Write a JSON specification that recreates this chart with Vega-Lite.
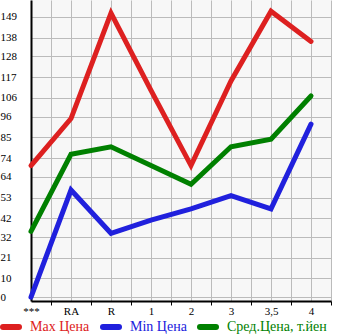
{
  "$schema": "https://vega.github.io/schema/vega-lite/v6.json",
  "width": 300,
  "height": 301,
  "autosize": {"type": "none"},
  "padding": {"left": 31, "top": 0, "right": 14, "bottom": 34},
  "background": "white",
  "config": {
    "view": {"stroke": null, "fill": "#f7f7f7"},
    "font": "Liberation Serif"
  },
  "data": {
    "values": [
      {"i": 0, "cat": "***", "series": "Max Цена", "value": 70},
      {"i": 1, "cat": "RA", "series": "Max Цена", "value": 95},
      {"i": 2, "cat": "R", "series": "Max Цена", "value": 151},
      {"i": 3, "cat": "1", "series": "Max Цена", "value": 110},
      {"i": 4, "cat": "2", "series": "Max Цена", "value": 70},
      {"i": 5, "cat": "3", "series": "Max Цена", "value": 115},
      {"i": 6, "cat": "3,5", "series": "Max Цена", "value": 152},
      {"i": 7, "cat": "4", "series": "Max Цена", "value": 136},
      {"i": 0, "cat": "***", "series": "Min Цена", "value": 0},
      {"i": 1, "cat": "RA", "series": "Min Цена", "value": 57},
      {"i": 2, "cat": "R", "series": "Min Цена", "value": 34},
      {"i": 3, "cat": "1", "series": "Min Цена", "value": 41},
      {"i": 4, "cat": "2", "series": "Min Цена", "value": 47},
      {"i": 5, "cat": "3", "series": "Min Цена", "value": 54},
      {"i": 6, "cat": "3,5", "series": "Min Цена", "value": 47},
      {"i": 7, "cat": "4", "series": "Min Цена", "value": 92},
      {"i": 0, "cat": "***", "series": "Сред.Цена, т.йен", "value": 35},
      {"i": 1, "cat": "RA", "series": "Сред.Цена, т.йен", "value": 76},
      {"i": 2, "cat": "R", "series": "Сред.Цена, т.йен", "value": 80},
      {"i": 3, "cat": "1", "series": "Сред.Цена, т.йен", "value": 70},
      {"i": 4, "cat": "2", "series": "Сред.Цена, т.йен", "value": 60},
      {"i": 5, "cat": "3", "series": "Сред.Цена, т.йен", "value": 80},
      {"i": 6, "cat": "3,5", "series": "Сред.Цена, т.йен", "value": 84},
      {"i": 7, "cat": "4", "series": "Сред.Цена, т.йен", "value": 107}
    ]
  },
  "mark": {"type": "line", "strokeWidth": 5, "strokeCap": "round", "clip": false},
  "encoding": {
    "x": {
      "field": "i",
      "type": "quantitative",
      "scale": {"domain": [0, 7.5], "nice": false, "zero": false},
      "axis": {
        "title": null,
        "values": [0, 0.5, 1, 1.5, 2, 2.5, 3, 3.5, 4, 4.5, 5, 5.5, 6, 6.5, 7, 7.5],
        "labelExpr": "datum.value % 1 == 0 ? ['***','RA','R','1','2','3','3,5','4'][datum.value] : ''",
        "labelFont": "Liberation Serif",
        "labelFontSize": 11,
        "labelColor": "black",
        "labelPadding": 0,
        "labelBaseline": "top",
        "labelFlush": false,
        "labelOverlap": false,
        "domainColor": "black",
        "domainWidth": 2,
        "tickColor": "black",
        "tickSize": 4,
        "tickWidth": 1,
        "tickOpacity": {"condition": {"test": "datum.value % 1 != 0", "value": 1}, "value": 0},
        "grid": true,
        "gridColor": "#bbbbbb",
        "gridWidth": 1,
        "gridOpacity": 1
      }
    },
    "y": {
      "field": "value",
      "type": "quantitative",
      "scale": {"domain": [-2, 158], "nice": false, "zero": false},
      "axis": {
        "title": null,
        "values": [0, 10, 21, 32, 42, 53, 64, 74, 85, 96, 106, 117, 128, 138, 149],
        "labelAlign": "left",
        "labelBaseline": "middle",
        "labelPadding": 31,
        "ticks": false,
        "labelFont": "Liberation Serif",
        "labelFontSize": 11,
        "labelColor": "black",
        "domainColor": "black",
        "domainWidth": 2,
        "grid": true,
        "gridColor": "#bbbbbb",
        "gridWidth": 1,
        "gridOpacity": 1
      }
    },
    "color": {
      "field": "series",
      "type": "nominal",
      "scale": {
        "domain": ["Max Цена", "Min Цена", "Сред.Цена, т.йен"],
        "range": ["#dd2020", "#2020dd", "#008000"]
      },
      "legend": {
        "title": null,
        "orient": "none",
        "direction": "horizontal",
        "legendX": -31,
        "legendY": 316,
        "padding": 0,
        "symbolType": "stroke",
        "symbolSize": 256,
        "symbolStrokeWidth": 6,
        "labelFont": "Liberation Serif",
        "labelFontSize": 14,
        "labelOffset": 8,
        "columnPadding": 1,
        "encode": {
          "labels": {"update": {"fill": {"scale": "color", "field": "value"}}},
          "symbols": {"update": {"strokeCap": {"value": "round"}}}
        }
      }
    }
  }
}
